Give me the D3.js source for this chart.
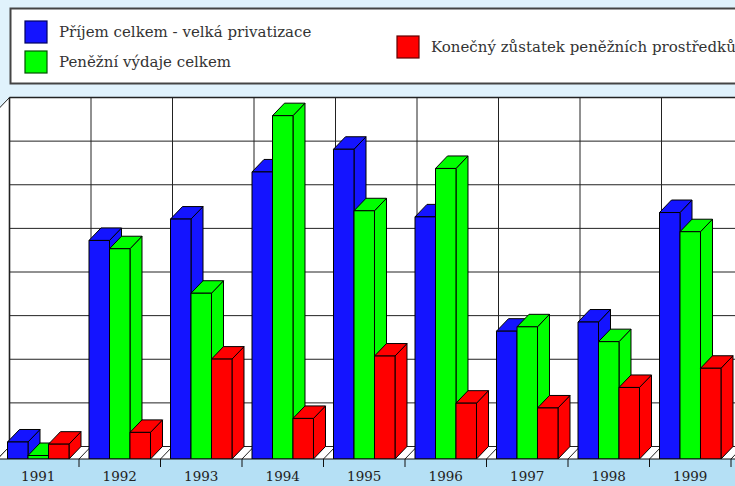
<meta charset="utf-8">
<style>
body { margin: 0; background: #e0f2fc; }
svg { display: block; }
text { font-family: "DejaVu Serif", serif; }
.legend-text { font-size: 15px; fill: #333; }
.year { font-size: 13.5px; fill: #222; }
</style>
<body>
<script src="https://cdnjs.cloudflare.com/ajax/libs/d3/7.8.5/d3.min.js"></script>
<script>

var years = ["1991", "1992", "1993", "1994", "1995", "1996", "1997", "1998", "1999"];
var seriesNames = ["Příjem celkem - velká privatizace", "Peněžní výdaje celkem", "Konečný zůstatek peněžních prostředků"];
var prijem   = [0.39, 5.01, 5.50, 6.58, 7.10, 5.55, 2.93, 3.14, 5.65];
var vydaje   = [0.08, 4.82, 3.80, 7.87, 5.69, 6.66, 3.03, 2.69, 5.21];
var zustatek = [0.34, 0.61, 2.29, 0.93, 2.36, 1.28, 1.17, 1.64, 2.08];
var colors = ["#1414ff", "#00ff00", "#ff0000"];
var gridValues = [0, 1, 2, 3, 4, 5, 6, 7, 8];

var width = 735, height = 486;
var dx = 12, dy = 12.5;          // depth of the 3d box
var baseY = 459;                  // front floor edge

var svg = d3.select("body").append("svg")
    .attr("width", width)
    .attr("height", height);

var x = d3.scaleBand().domain(years).range([-2.5, -2.5 + 9 * 81.5]);
var xs = d3.scaleBand().domain([0, 1, 2]).range([0, x.bandwidth()]).paddingOuter(0.488);
var y = d3.scaleLinear().domain([0, 8]).range([baseY, baseY - 8 * 43.625]);

var backTop = y(8) - dy, backBase = baseY - dy, backLeft = x.range()[0] + dx;

// legend box
svg.append("rect")
    .attr("x", 10.5).attr("y", 8.5)
    .attr("width", 760).attr("height", 75)
    .attr("fill", "white")
    .attr("stroke", "#444")
    .attr("stroke-width", 2);

var legendPos = [[25, 21], [25, 51], [397, 36]];
seriesNames.forEach(function(name, i) {
  var g = svg.append("g").attr("transform", "translate(" + legendPos[i][0] + "," + legendPos[i][1] + ")");
  g.append("rect")
      .attr("width", 22).attr("height", 22)
      .attr("fill", colors[i])
      .attr("stroke", i == 0 ? "#000060" : (i == 1 ? "#005000" : "#600000"))
      .attr("stroke-width", 1.2);
  g.append("text")
      .attr("class", "legend-text")
      .attr("x", 34).attr("y", 16)
      .text(name);
});

// back wall, left wall and floor
svg.append("rect")
    .attr("x", backLeft).attr("y", backTop)
    .attr("width", width - backLeft + 10).attr("height", backBase - backTop)
    .attr("fill", "white");

svg.append("polygon")
    .attr("points", [[x.range()[0], y(8)], [backLeft, backTop], [backLeft, backBase], [x.range()[0], baseY]].join(" "))
    .attr("fill", "white")
    .attr("stroke", "#222")
    .attr("stroke-width", 1);

svg.append("polygon")
    .attr("points", [[x.range()[0], baseY], [backLeft, backBase], [width + 10, backBase], [width + 10, baseY]].join(" "))
    .attr("fill", "white");

// horizontal grid
svg.selectAll(".hgrid")
    .data(gridValues)
  .enter().append("line")
    .attr("class", "hgrid")
    .attr("x1", backLeft).attr("x2", width + 10)
    .attr("y1", function(d) { return y(d) - dy; })
    .attr("y2", function(d) { return y(d) - dy; })
    .attr("stroke", "#222")
    .attr("stroke-width", function(d) { return d == 8 ? 1.6 : 1; });

// vertical grid + floor diagonals
var bounds = years.map(function(d) { return x(d); }).concat([x.range()[1]]);
svg.selectAll(".vgrid")
    .data(bounds)
  .enter().append("line")
    .attr("class", "vgrid")
    .attr("x1", function(d) { return d + dx; })
    .attr("x2", function(d) { return d + dx; })
    .attr("y1", backTop).attr("y2", backBase)
    .attr("stroke", "#222")
    .attr("stroke-width", function(d, i) { return i == 0 ? 1.6 : 1; });

svg.selectAll(".diag")
    .data(bounds)
  .enter().append("line")
    .attr("class", "diag")
    .attr("x1", function(d) { return d + dx; })
    .attr("y1", backBase)
    .attr("x2", function(d) { return d; })
    .attr("y2", baseY)
    .attr("stroke", "#222")
    .attr("stroke-width", 1);

// bars
var series = [prijem, vydaje, zustatek];
var bars = [];
years.forEach(function(yr, i) {
  series.forEach(function(s, j) {
    bars.push({year: yr, k: j, v: s[i]});
  });
});

var barG = svg.selectAll(".bar")
    .data(bars)
  .enter().append("g")
    .attr("class", "bar");

barG.each(function(d) {
  var g = d3.select(this);
  var x0 = x(d.year) + xs(d.k), x1 = x0 + xs.bandwidth();
  var top = y(d.v), base = y(0);
  var col = colors[d.k];
  var face = function(pts) {
    g.append("polygon")
        .attr("points", pts.join(" "))
        .attr("fill", col)
        .attr("stroke", "#000")
        .attr("stroke-width", 1)
        .attr("stroke-linejoin", "round");
  };
  face([[x1, top], [x1 + dx, top - dy], [x1 + dx, base - dy], [x1, base]]);
  face([[x0, top], [x1, top], [x1 + dx, top - dy], [x0 + dx, top - dy]]);
  face([[x0, top], [x1, top], [x1, base], [x0, base]]);
});

// axis band
svg.append("rect")
    .attr("x", 0).attr("y", baseY)
    .attr("width", width).attr("height", height - baseY)
    .attr("fill", "#b5e0f5");

svg.append("line")
    .attr("x1", 0).attr("x2", width)
    .attr("y1", baseY).attr("y2", baseY)
    .attr("stroke", "#111")
    .attr("stroke-width", 1.2);

svg.selectAll(".tick")
    .data(bounds.slice(1))
  .enter().append("line")
    .attr("class", "tick")
    .attr("x1", function(d) { return d; })
    .attr("x2", function(d) { return d; })
    .attr("y1", baseY).attr("y2", baseY + 8)
    .attr("stroke", "#111");

svg.selectAll(".year")
    .data(years)
  .enter().append("text")
    .attr("class", "year")
    .attr("x", function(d) { return x(d) + x.bandwidth() / 2; })
    .attr("y", 481)
    .attr("text-anchor", "middle")
    .text(function(d) { return d; });

</script>
